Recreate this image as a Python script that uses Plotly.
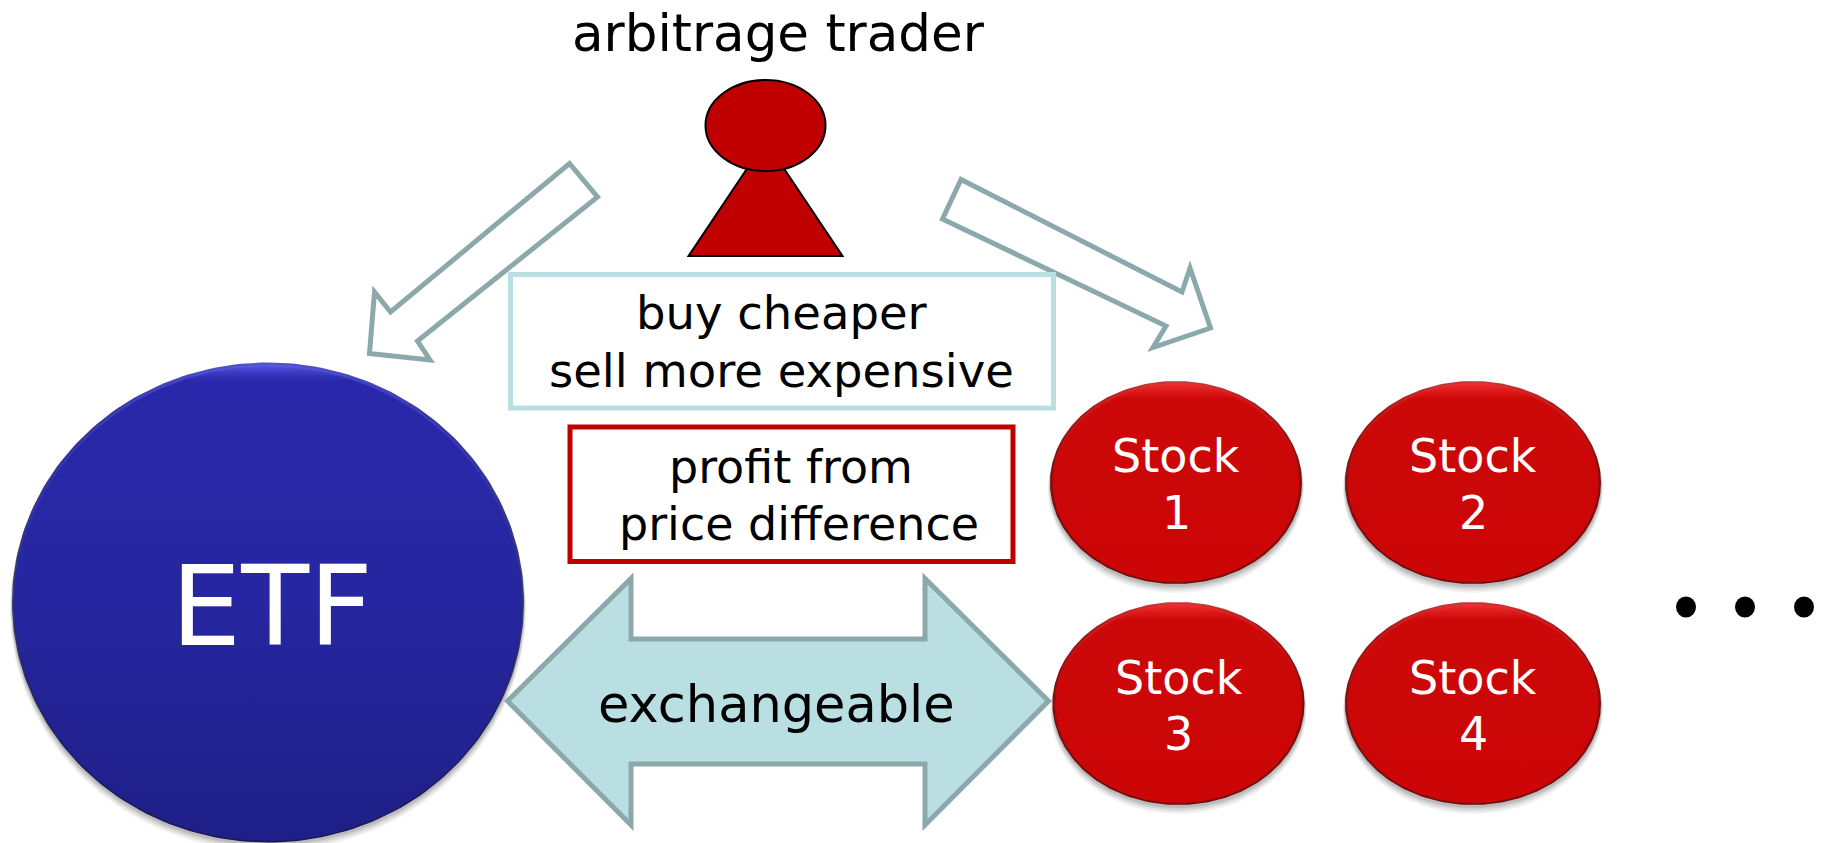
import numpy as np
import plotly.graph_objects as go

W, H = 1826, 843
FONT = "DejaVu Sans"

# Text
title_text = "arbitrage trader"
buy_lines = ["buy cheaper", "sell more expensive"]
profit_lines = ["profit from", "price difference"]
exchange_text = "exchangeable"
etf_text = "ETF"
stock_names = ["Stock", "Stock", "Stock", "Stock"]
stock_numbers = ["1", "2", "3", "4"]

# Ellipses: centre x, centre y, radius x, radius y
etf_ball = [268, 602.5, 256, 240]
stock_cx = [1176, 1473, 1178.5, 1473]
stock_cy = [482.5, 482.5, 703.5, 703.5]
stock_rx = [126, 128, 126, 128]
stock_ry = [101.5, 101.5, 101.5, 101.5]
dot_cx = [1686, 1745, 1804]
dot_cy = [607, 607, 607]

# Outlined polygons
left_arrow_x = [569.5, 597.5, 417.5, 430, 369.5, 374.5, 390.5]
left_arrow_y = [163.5, 197, 341, 360, 353.5, 292, 312]
right_arrow_x = [961, 942.5, 1166, 1153, 1210.5, 1190, 1182]
right_arrow_y = [179.5, 219, 326, 347.5, 328, 268, 292]
double_arrow_x = [507.5, 631, 631, 925, 925, 1048.5, 925, 925, 631, 631]
double_arrow_y = [701, 578.5, 639, 639, 578.5, 701, 825, 764, 764, 825]
body_x = [688.5, 765.5, 842.5]
body_y = [256, 141, 256]
head = [765.5, 125.5, 60, 45.5]

# Boxes: x0, y0, x1, y1
buy_box = [510.5, 274.5, 1053.5, 408]
profit_box = [570, 427, 1013, 561.5]

# Colours
TEAL_EDGE = "#8BA8AB"
TEAL_FILL = "#B9DFE2"
RED = "#C00000"


def poly(xs, ys):
    pts = [f"{x},{y}" for x, y in zip(xs, ys)]
    return "M" + " L".join(pts) + " Z"


def ellipse_trace(cx, cy, rx, ry, color=None, stops=None):
    t = np.linspace(0, 2 * np.pi, 241)
    kw = dict(fillcolor=color)
    if stops:
        kw = dict(fillgradient=dict(type="vertical", start=cy - ry, stop=cy + ry, colorscale=stops))
    return go.Scatter(x=cx + rx * np.cos(t), y=cy + ry * np.sin(t), mode="lines", line=dict(width=0),
                      fill="toself", hoverinfo="skip", showlegend=False, **kw)


def ball(fig, cx, cy, rx, ry, rim, mid, body):
    for i, a in enumerate([0.05, 0.06, 0.08, 0.10]):
        fig.add_trace(ellipse_trace(cx, cy + 7 - i * 1.5, rx + 2 - i * 0.5, ry + 2 - i * 0.5,
                                    color=f"rgba(0,0,0,{a})"))
    fig.add_trace(ellipse_trace(cx, cy, rx, ry, stops=rim))
    fig.add_trace(ellipse_trace(cx, cy + 0.5, rx - 1.5, ry - 1.5, stops=mid))
    fig.add_trace(ellipse_trace(cx, cy + 1, rx - 3, ry - 3, stops=body))


fig = go.Figure()

ball(fig, *etf_ball,
     rim=[[0, "#5050C8"], [0.12, "#34349A"], [0.5, "#3A3A70"], [1, "#141450"]],
     mid=[[0, "#5858E0"], [0.03, "#4040C8"], [0.5, "#25258E"], [1, "#1C1C70"]],
     body=[[0, "#5050DC"], [0.012, "#3C3CC4"], [0.03, "#2A28AA"], [0.5, "#2626A0"], [1, "#1F1F88"]])
for cx, cy, rx, ry in zip(stock_cx, stock_cy, stock_rx, stock_ry):
    ball(fig, cx, cy, rx, ry,
         rim=[[0, "#C83838"], [0.15, "#A01818"], [0.5, "#701010"], [1, "#601010"]],
         mid=[[0, "#EE3030"], [0.05, "#DC1C1C"], [0.5, "#A80808"], [1, "#900808"]],
         body=[[0, "#EA2A2A"], [0.035, "#DC1818"], [0.07, "#CC0808"], [1, "#CC0606"]])

shapes = []
edge = dict(color=TEAL_EDGE, width=5)
shapes.append(dict(type="path", path=poly(left_arrow_x, left_arrow_y), fillcolor="white", line=edge))
shapes.append(dict(type="path", path=poly(right_arrow_x, right_arrow_y), fillcolor="white", line=edge))
shapes.append(dict(type="rect", x0=buy_box[0], y0=buy_box[1], x1=buy_box[2], y1=buy_box[3],
                   fillcolor="white", line=dict(color=TEAL_FILL, width=5)))
shapes.append(dict(type="rect", x0=profit_box[0], y0=profit_box[1], x1=profit_box[2], y1=profit_box[3],
                   fillcolor="white", line=dict(color=RED, width=5)))
shapes.append(dict(type="path", path=poly(double_arrow_x, double_arrow_y), fillcolor=TEAL_FILL, line=edge))
shapes.append(dict(type="path", path=poly(body_x, body_y), fillcolor=RED, line=dict(color="black", width=2)))
shapes.append(dict(type="circle", x0=head[0] - head[2], x1=head[0] + head[2], y0=head[1] - head[3],
                   y1=head[1] + head[3], fillcolor=RED, line=dict(color="black", width=2)))
for cx, cy in zip(dot_cx, dot_cy):
    shapes.append(dict(type="circle", x0=cx - 10, x1=cx + 10, y0=cy - 10.5, y1=cy + 10.5,
                       fillcolor="black", line=dict(width=0)))
for s in shapes:
    s.update(xref="x", yref="y", layer="above")


def label(text, x, y, size, color="black"):
    return dict(text=text, x=x, y=y, xref="x", yref="y", xanchor="center", yanchor="middle",
                showarrow=False, font=dict(family=FONT, size=size, color=color))


annotations = [
    label(title_text, 778, 33, 51.5),
    label(buy_lines[0], 782, 313, 46.5),
    label(buy_lines[1], 781, 371, 46.5),
    label(profit_lines[0], 791, 467, 46),
    label(profit_lines[1], 799, 524, 46),
    label(exchange_text, 776, 704, 51),
    label(etf_text, 272, 606, 111, "white"),
]
stock_label_x = [1176, 1473, 1178.5, 1473]
stock_name_y = [456, 456, 678, 678]
stock_num_y = [513, 513, 734, 734]
for nm, num, x, y0, y1 in zip(stock_names, stock_numbers, stock_label_x, stock_name_y, stock_num_y):
    annotations.append(label(nm, x, y0, 46, "white"))
    annotations.append(label(num, x, y1, 46, "white"))

fig.update_layout(
    width=W, height=H, margin=dict(l=0, r=0, t=0, b=0),
    paper_bgcolor="white", plot_bgcolor="white", showlegend=False,
    xaxis=dict(range=[0, W], visible=False, fixedrange=True),
    yaxis=dict(range=[H, 0], visible=False, fixedrange=True),
    shapes=shapes, annotations=annotations,
)
fig.write_html("out.html", config={"displayModeBar": False},
               post_script="document.body.style.margin='0';document.body.style.overflow='hidden';")
